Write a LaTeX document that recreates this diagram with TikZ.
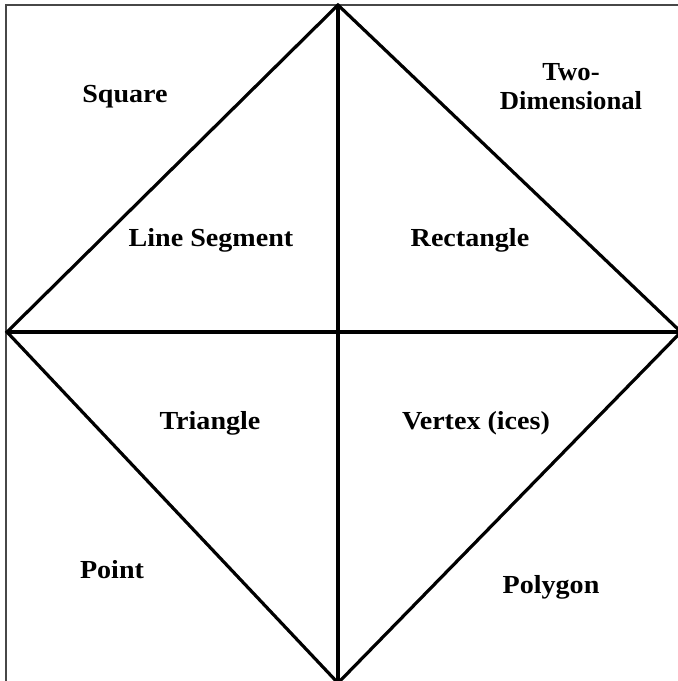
\documentclass[tikz,border=0pt]{standalone}
\usepackage{fontspec}
\setmainfont{Liberation Serif}
\begin{document}
\begin{tikzpicture}[x=1pt,y=-1pt,
  lbl/.style={font=\fontsize{26}{29}\selectfont\bfseries, inner sep=0pt, align=center, xscale=1.08},
  edge/.style={line width=3.2pt, black},
  frame/.style={line width=2.4pt, black!72}]
\useasboundingbox (0,0) rectangle (678,681);
\begin{scope}
\clip (0,0) rectangle (678,681);
\coordinate (T) at (338,5);
\coordinate (L) at (7,332);
\coordinate (R) at (681,332);
\coordinate (B) at (338,683);
\coordinate (FB) at (6,690);
\coordinate (FC) at (6,5);
\coordinate (FR) at (690,5);
\draw[frame] (FB) -- (FC) -- (FR);
\draw[edge, line join=miter] (T) -- (R) -- (B) -- (L) -- cycle;
\draw[edge] (T) -- (B);
\draw[edge] (L) -- (R);
\end{scope}
\node[lbl] (sq) at (125,97) {Square};
\node[lbl, xscale=0.95] (two) at (571,87) {Two-\\Dimensional};
\node[lbl] (ls) at (211,240) {Line Segment};
\node[lbl] (rect) at (470,240) {Rectangle};
\node[lbl] (tri) at (210,423) {Triangle};
\node[lbl] (vert) at (476,423) {Vertex (ices)};
\node[lbl] (pt) at (112,570) {Point};
\node[lbl] (poly) at (551,587) {Polygon};
\end{tikzpicture}
\end{document}
